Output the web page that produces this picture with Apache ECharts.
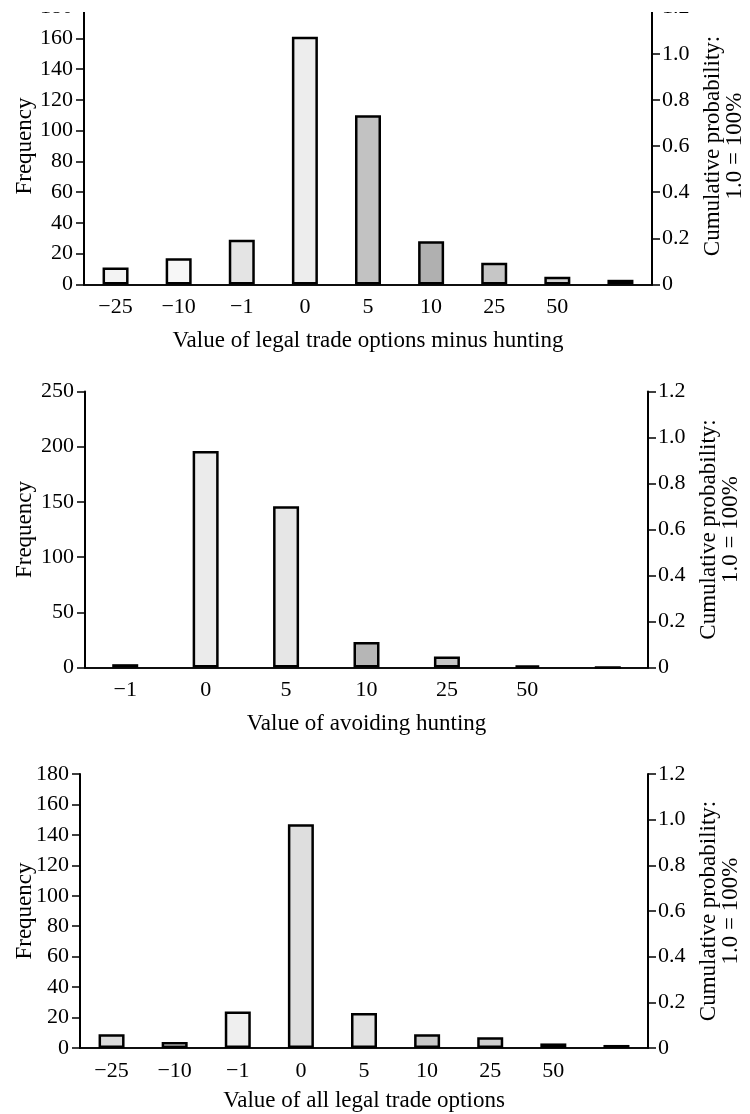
<!DOCTYPE html>
<html>
<head>
<meta charset="utf-8">
<script src="https://cdn.jsdelivr.net/npm/echarts@6/dist/echarts.min.js"></script>
<style>
  html, body { margin: 0; padding: 0; background: #fff; }
  #chart { width: 750px; height: 1114px; }
</style>
</head>
<body>
<div id="chart"></div>
<script>
// ---- data ----
const cats1 = ['−25', '−10', '−1', '0', '5', '10', '25', '50', ''];
const freq1 = [11, 17, 29, 161, 110, 28, 14, 5, 3];

const cats2 = ['−1', '0', '5', '10', '25', '50', ''];
const freq2 = [3, 196, 146, 23, 10, 2, 0];

const cats3 = ['−25', '−10', '−1', '0', '5', '10', '25', '50', ''];
const freq3 = [9, 4, 24, 147, 23, 9, 7, 3, 2];

const xNames = [
  'Value of legal trade options minus hunting',
  'Value of avoiding hunting',
  'Value of all legal trade options'
];
const leftMax = [180, 250, 180];
const leftInterval = [20, 50, 20];
const rightMax = 1.2;
const rightInterval = 0.2;

// ---- styling (not data) ----
const fills1 = ['#f3f3f3', '#f7f7f7', '#e4e4e4', '#ededed', '#c2c2c2', '#b0b0b0', '#c6c6c6', '#d2d2d2', '#e2e2e2'];
const fills2 = ['#ececec', '#ebebeb', '#e6e6e6', '#b6b6b6', '#c6c6c6', '#eeeeee', '#ffffff'];
const fills3 = ['#dadada', '#f4f4f4', '#efefef', '#dedede', '#e2e2e2', '#c8c8c8', '#cecece', '#dcdcdc', '#d4d4d4'];

const FONT = 'Liberation Serif';
const grids = [
  { left: 84, top: 7.6, width: 568, height: 276.8, outerBoundsMode: 'none', containLabel: false },
  { left: 85, top: 391.5, width: 563, height: 276, outerBoundsMode: 'none', containLabel: false },
  { left: 80, top: 774, width: 568, height: 274, outerBoundsMode: 'none', containLabel: false }
];
const xNameGaps = [45, 45, 41];
const yNameGaps = [48, 49, 44];
const catsAll = [cats1, cats2, cats3];
const freqAll = [freq1, freq2, freq3];
const fillsAll = [fills1, fills2, fills3];

const xAxes = [], yAxes = [], series = [];
grids.forEach((g, i) => {
  xAxes.push({
    type: 'category', gridIndex: i, data: catsAll[i], position: 'bottom',
    axisLine: { show: true, lineStyle: { color: '#000', width: 1.6 } },
    axisTick: { show: false },
    axisLabel: { color: '#000', fontFamily: FONT, fontSize: 22, margin: 12, interval: 0 },
    name: xNames[i], nameLocation: 'middle', nameGap: xNameGaps[i], nameMoveOverlap: false,
    nameTextStyle: { color: '#000', fontFamily: FONT, fontSize: 23 }
  });
  xAxes.push({
    type: 'category', gridIndex: i, data: catsAll[i], position: 'top',
    axisLine: { show: true, lineStyle: { color: '#000', width: 1.6 } },
    axisTick: { show: false }, axisLabel: { show: false }
  });
  yAxes.push({
    type: 'value', gridIndex: i, position: 'left', min: 0, max: leftMax[i], interval: leftInterval[i],
    axisLine: { show: true, lineStyle: { color: '#000', width: 2 } },
    axisTick: { show: true, length: 8, lineStyle: { color: '#000', width: 1.5 } },
    splitLine: { show: false },
    axisLabel: { color: '#000', fontFamily: FONT, fontSize: 22, margin: 11 },
    name: 'Frequency', nameLocation: 'middle', nameRotate: 90, nameGap: yNameGaps[i], nameMoveOverlap: false,
    nameTextStyle: { color: '#000', fontFamily: FONT, fontSize: 23 }
  });
  yAxes.push({
    type: 'value', gridIndex: i, position: 'right', min: 0, max: rightMax, interval: rightInterval,
    axisLine: { show: true, lineStyle: { color: '#000', width: 2 } },
    axisTick: { show: true, length: 8, lineStyle: { color: '#000', width: 1.5 } },
    splitLine: { show: false },
    axisLabel: {
      color: '#000', fontFamily: FONT, fontSize: 22, margin: 10,
      formatter: v => (v === 0 ? '0' : v.toFixed(1))
    },
    name: 'Cumulative probability:\n1.0 = 100%', nameLocation: 'middle', nameRotate: 90, nameGap: 50,
    nameTextStyle: { color: '#000', fontFamily: FONT, fontSize: 23, lineHeight: 22 }
  });
  series.push({
    type: 'bar', xAxisIndex: i * 2, yAxisIndex: i * 2, barWidth: 26,
    data: freqAll[i].map((v, k) => ({ value: v, itemStyle: { color: fillsAll[i][k] } })),
    itemStyle: { borderColor: '#000', borderWidth: 2.5 },
    emphasis: { disabled: true }
  });
});

const chart = echarts.init(document.getElementById('chart'), null, { renderer: 'canvas' });
chart.setOption({
  backgroundColor: '#fff',
  animation: false,
  grid: grids,
  xAxis: xAxes,
  yAxis: yAxes,
  series: series,
  graphic: [{
    type: 'rect', z: 100, silent: true,
    shape: { x: 0, y: 0, width: 750, height: 12 },
    style: { fill: '#fff' }
  }]
});
</script>
</body>
</html>
